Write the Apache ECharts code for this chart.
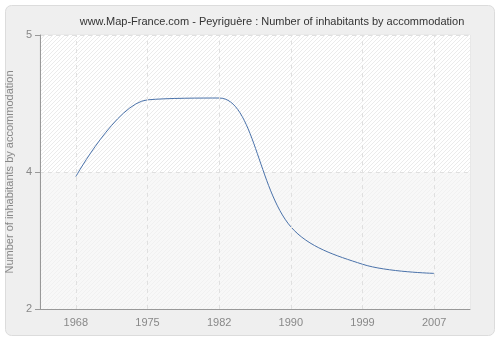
<!DOCTYPE html>
<html><head><meta charset="utf-8">
<script src="https://cdn.jsdelivr.net/npm/echarts@6/dist/echarts.min.js"></script>
<style>html,body{margin:0;padding:0;background:#fff}#c{width:500px;height:340px}</style>
</head><body><div id="c"></div>
<script>
const titleText = 'www.Map-France.com - Peyriguère : Number of inhabitants by accommodation';
const yAxisTitle = 'Number of inhabitants by accommodation';
const years = ['1968', '1975', '1982', '1990', '1999', '2007'];
const inhabitants = [3.45, 4.29, 4.31, 2.90, 2.49, 2.39];
const yTicks = [2, 3.5, 5];
const yTickLabels = ['2', '4', '5'];

function hatch(bg, line) {
  const n = 4;
  const c = document.createElement('canvas');
  c.width = n; c.height = n;
  const g = c.getContext('2d');
  g.fillStyle = bg; g.fillRect(0, 0, n, n);
  g.strokeStyle = line; g.lineWidth = 1;
  g.beginPath();
  g.moveTo(0, n); g.lineTo(n, 0);
  g.moveTo(-n, n); g.lineTo(n, -n);
  g.moveTo(0, 2 * n); g.lineTo(2 * n, 0);
  g.stroke();
  return { image: c, repeat: 'repeat' };
}

const FONT = 'Liberation Sans';
const chart = echarts.init(document.getElementById('c'), null, { renderer: 'canvas' });
chart.setOption({
  animation: false,
  backgroundColor: '#ffffff',
  graphic: [{
    type: 'rect', left: 5, top: 5, z: -10,
    shape: { width: 489, height: 330, r: 6 },
    style: { fill: '#efefef', stroke: '#dcdcdc', lineWidth: 1 }
  }],
  title: {
    text: titleText, left: 267, top: 11, textAlign: 'center',
    textStyle: { fontFamily: FONT, fontSize: 11, fontWeight: 'normal', color: '#333' }
  },
  grid: { left: 40, right: 30, top: 35, bottom: 31, outerBoundsMode: 'none', containLabel: false, show: true, borderColor: '#e2e2e2', borderWidth: 1, backgroundColor: 'transparent' },
  xAxis: {
    type: 'category', data: years, boundaryGap: true,
    axisLine: { lineStyle: { color: '#999' } },
    axisTick: { alignWithLabel: true, length: 5, lineStyle: { color: '#999' } },
    axisLabel: { color: '#888', fontFamily: FONT, fontSize: 11, margin: 8 },
    splitLine: { show: false }
  },
  yAxis: {
    type: 'value', min: yTicks[0], max: yTicks[yTicks.length - 1], interval: yTicks[1] - yTicks[0],
    name: yAxisTitle, nameLocation: 'middle', nameGap: 21,
    nameTextStyle: { color: '#888', fontFamily: FONT, fontSize: 11 },
    axisLine: { show: true, lineStyle: { color: '#999' } },
    axisTick: { show: true, length: 5, lineStyle: { color: '#999' } },
    axisLabel: {
      color: '#888', fontFamily: FONT, fontSize: 11, margin: 8,
      formatter: function (v) { const i = yTicks.indexOf(v); return i >= 0 ? yTickLabels[i] : ''; }
    },
    splitLine: { show: true, lineStyle: { color: '#e0e0e0', type: [4, 4] } },
    splitArea: { show: true, areaStyle: { color: [hatch('#f8f8f8', '#f1f1f1'), hatch('#ffffff', '#ebebeb')] } }
  },
  series: [{
    type: 'line', data: inhabitants, smooth: 0.35, symbol: 'none',
    lineStyle: { color: '#4a72aa', width: 1 },
    markLine: {
      silent: true, symbol: 'none', label: { show: false },
      lineStyle: { color: '#e0e0e0', type: [4, 4], width: 1 },
      data: years.map(y => ({ xAxis: y }))
    }
  }]
});
</script></body></html>
